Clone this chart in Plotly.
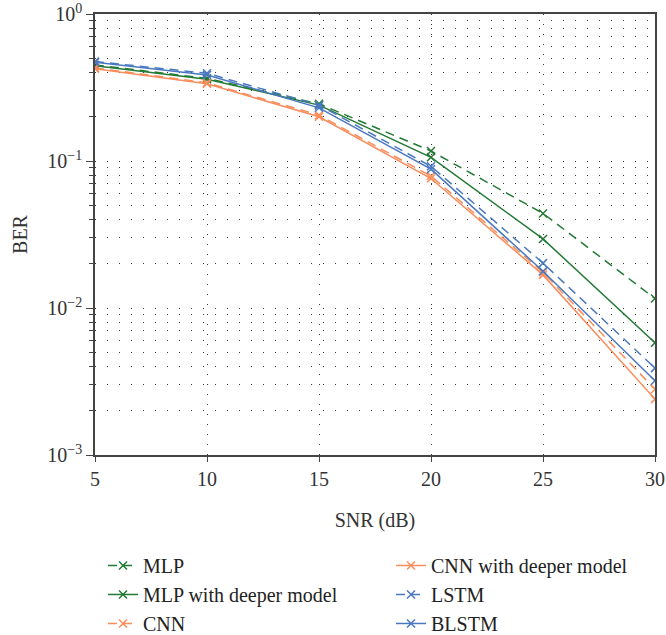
import plotly.graph_objects as go

snr = [5, 10, 15, 20, 25, 30]
names = ["MLP", "MLP with deeper model", "CNN", "CNN with deeper model", "LSTM", "BLSTM"]
mlp = [0.45, 0.365, 0.245, 0.117, 0.044, 0.0116]
mlp_deep = [0.445, 0.36, 0.24, 0.106, 0.0295, 0.0058]
cnn = [0.43, 0.34, 0.205, 0.079, 0.0175, 0.0028]
cnn_deep = [0.425, 0.335, 0.2, 0.076, 0.0168, 0.0024]
lstm = [0.475, 0.395, 0.24, 0.092, 0.0202, 0.0039]
blstm = [0.47, 0.385, 0.23, 0.088, 0.0178, 0.0032]
y_tickvals = [1e-3, 1e-2, 1e-1, 1]
y_ticktext = ["10<sup>−3</sup>", "10<sup>−2</sup>", "10<sup>−1</sup>", "10<sup>0</sup>"]

GREEN = "#237a35"
ORANGE = "#f98d5c"
BLUE = "#4a78c0"
DASH = "9px,6px"
series = [
    (names[0], mlp, GREEN, DASH, "legend"),
    (names[1], mlp_deep, GREEN, "solid", "legend"),
    (names[2], cnn, ORANGE, DASH, "legend"),
    (names[3], cnn_deep, ORANGE, "solid", "legend2"),
    (names[4], lstm, BLUE, DASH, "legend2"),
    (names[5], blstm, BLUE, "solid", "legend2"),
]

FONT = "Liberation Serif"
fig = go.Figure()
for name, vals, col, dash, leg in series:
    fig.add_trace(go.Scatter(
        x=snr, y=vals, name=name, mode="lines+markers", legend=leg,
        line=dict(color=col, width=1.5, dash=dash),
        marker=dict(symbol="x-thin", size=8, line=dict(color=col, width=1.5), color=col),
    ))

legend_common = dict(orientation="v", xanchor="left", xref="paper", yref="container",
                     y=0.1402, yanchor="top", itemwidth=30,
                     font=dict(family=FONT, size=20, color="#222222"),
                     bgcolor="rgba(0,0,0,0)", borderwidth=0)

fig.update_layout(
    width=666, height=635,
    margin=dict(l=95, r=11, t=14, b=180),
    plot_bgcolor="white", paper_bgcolor="white",
    font=dict(family=FONT, size=20, color="#333333"),
    showlegend=True,
    legend=dict(x=0.0143, **legend_common),
    legend2=dict(x=0.5286, **legend_common),
)
fig.update_xaxes(
    range=[5, 30], tickvals=snr, ticks="outside", ticklen=5, tickcolor="#444",
    showline=True, linecolor="#444", linewidth=1.5, mirror=True,
    showgrid=True, gridcolor="#333", gridwidth=1, griddash="1px,9px",
    zeroline=False, automargin=False,
    tickfont=dict(family=FONT, size=20, color="#333"),
    title=dict(text="SNR (dB)", font=dict(family=FONT, size=20, color="#333"), standoff=24),
)
fig.update_yaxes(
    type="log", range=[-3, 0], tickvals=y_tickvals, ticktext=y_ticktext,
    ticks="outside", ticklen=7, tickcolor="#444",
    showline=True, linecolor="#444", linewidth=1.5, mirror=True,
    showgrid=True, gridcolor="#333", gridwidth=1, griddash="1px,11px",
    minor=dict(ticks="outside", ticklen=4, tickcolor="#444", dtick="D1",
               showgrid=True, gridcolor="#333", gridwidth=1, griddash="1px,11px"),
    zeroline=False, automargin=False,
    tickfont=dict(family=FONT, size=20, color="#333"),
    title=dict(text="BER", font=dict(family=FONT, size=20, color="#333"), standoff=14),
)
fig.write_html("out.html", config={"displayModeBar": False},
               post_script="document.body.style.margin='0';")
